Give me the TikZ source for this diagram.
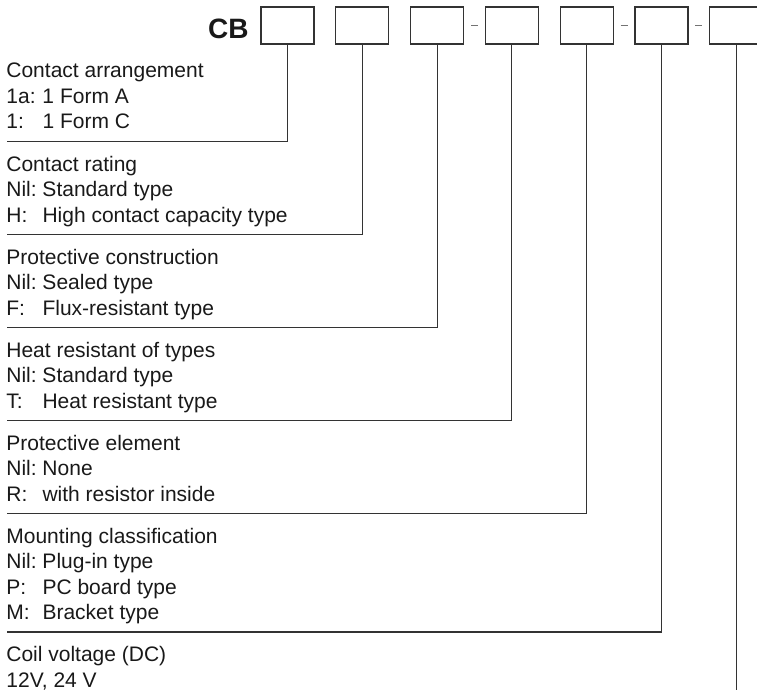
\documentclass[tikz,border=0pt]{standalone}
\usepackage{fontspec}
\setmainfont{Liberation Sans}
\usetikzlibrary{calc}

\newcommand{\optlabel}[1]{\makebox[1.72em][l]{#1}}

\tikzset{
  codebox/.style={draw=black!80, line width=0.55pt, minimum width=26.5pt,
    minimum height=18.5pt, inner sep=0pt},
  sepdash/.style={draw=black!55, line width=0.5pt},
  leader/.style={draw=black!80, line width=0.55pt},
  grouptext/.style={anchor=north west, align=left, inner sep=0pt,
    font=\fontsize{10.5}{12.75}\selectfont, text=black!90}
}

\begin{document}
\begin{tikzpicture}[x=0.5pt,y=-0.5pt]
    \useasboundingbox (0,0) rectangle (757,697);
    \begin{scope}
      \node[anchor=base east, inner sep=0pt, text=black!90,
        font=\fontsize{14}{16}\selectfont\bfseries] (cb) at (249,38.7) {CB};
      \node[codebox] (b1) at (287.5,25.5) {};
      \node[codebox] (b2) at (362.3,25.5) {};
      \node[codebox] (b3) at (437.1,25.5) {};
      \node[codebox] (b4) at (511.9,25.5) {};
      \node[codebox] (b5) at (586.7,25.5) {};
      \node[codebox] (b6) at (661.5,25.5) {};
      \node[codebox] (b7) at (736.3,25.5) {};
      \draw[sepdash] ($(b3.east)!.5!(b4.west)+(-3.5,-0.5)$) -- +(7,0);
      \draw[sepdash] ($(b5.east)!.5!(b6.west)+(-3.5,-0.5)$) -- +(7,0);
      \draw[sepdash] ($(b6.east)!.5!(b7.west)+(-3.5,-0.5)$) -- +(7,0);
    \end{scope}
    \begin{scope}
      \node[grouptext] (g1) at (6,62.7) {Contact arrangement\\
        \optlabel{1a:}1 Form A\\ \optlabel{1:}1 Form C};
      \node[grouptext] (g2) at (6,155.7) {Contact rating\\
        \optlabel{Nil:}Standard type\\ \optlabel{H:}High contact capacity type};
      \node[grouptext] (g3) at (6,248.7) {Protective construction\\
        \optlabel{Nil:}Sealed type\\ \optlabel{F:}Flux-resistant type};
      \node[grouptext] (g4) at (6,341.7) {Heat resistant of types\\
        \optlabel{Nil:}Standard type\\ \optlabel{T:}Heat resistant type};
      \node[grouptext] (g5) at (6,434.7) {Protective element\\
        \optlabel{Nil:}None\\ \optlabel{R:}with resistor inside};
      \node[grouptext] (g6) at (6,527.7) {Mounting classification\\
        \optlabel{Nil:}Plug-in type\\ \optlabel{P:}PC board type\\
        \optlabel{M:}Bracket type};
      \node[grouptext] (g7) at (6,646.2) {Coil voltage (DC)\\ 12V, 24 V};
      \coordinate (r1) at (7,141.5);
      \coordinate (r2) at (7,234.5);
      \coordinate (r3) at (7,327.5);
      \coordinate (r4) at (7,420.5);
      \coordinate (r5) at (7,513.5);
      \coordinate (r6) at (7,632);
      \coordinate (e7) at (736.3,690);
      \draw[leader] (b1.south) |- (r1);
      \draw[leader] (b2.south) |- (r2);
      \draw[leader] (b3.south) |- (r3);
      \draw[leader] (b4.south) |- (r4);
      \draw[leader] (b5.south) |- (r5);
      \draw[leader] (b6.south) |- (r6);
      \draw[leader] (b7.south) -- (e7);
    \end{scope}
\end{tikzpicture}
\end{document}
